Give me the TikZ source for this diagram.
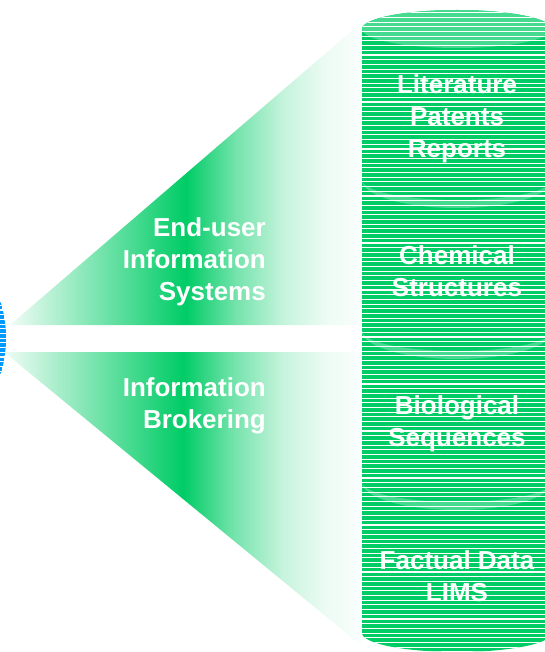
\documentclass[tikz,border=0pt]{standalone}
\usepackage{fontspec}
\setmainfont{Liberation Sans}
\usepackage{xcolor}
\usepackage{tikz}
\usetikzlibrary{positioning}
\definecolor{brand}{RGB}{0,204,102}
\definecolor{brandlight}{RGB}{70,218,145}
\definecolor{sphere}{RGB}{0,153,255}
\pgfdeclarehorizontalshading{fanshade}{100bp}{color(0bp)=(white); color(25bp)=(brand!6!white);
  color(50bp)=(brand); color(57bp)=(brand!55!white); color(64bp)=(brand!22!white);
  color(70bp)=(brand!7!white); color(75bp)=(brand!2!white); color(100bp)=(white)}

\begin{document}
\begin{tikzpicture}[x=1pt,y=-1pt,
    fan/.style={shading=fanshade},
    stripe/.style={white,line width=1.1pt},
    seam/.style={fill=brandlight},
    lbl/.style={text=white,font=\bfseries\fontsize{26}{32}\selectfont,inner sep=0pt}]
  \clip (0,0) rectangle (545,652);
  % Fans
  \shade[fan] (10,325) -- (362,22) -- (362,325) -- cycle;
  \shade[fan] (4,352) -- (362,352) -- (362,646) -- cycle;
  % Sphere on the left
  \begin{scope}
    \clip (-117,338) circle[radius=123pt];
    \fill[sphere] (-117,338) circle[radius=123pt];
    \foreach \y in {216,220.7,...,460} \draw[stripe] (-10,\y) -- (10,\y);
  \end{scope}
  % Database stack
  \begin{scope}
    \clip (362,29) -- (362,633) arc[start angle=180,end angle=360,x radius=95pt,y radius=19pt]
      -- (552,29) arc[start angle=0,end angle=180,x radius=95pt,y radius=19pt] -- cycle;
    \fill[brand] (355,0) rectangle (560,660);
    \fill[seam] (457,29) ellipse[x radius=95pt,y radius=19pt];
    \foreach \s in {180,331,482}
      \fill[seam] (362,\s) arc[start angle=180,end angle=360,x radius=95pt,y radius=28pt]
        arc[start angle=360,end angle=180,x radius=95pt,y radius=20pt] -- cycle;
    \foreach \y in {8,12.7,...,660} \draw[stripe] (355,\y) -- (560,\y);
  \end{scope}
  % Labels
  \node[lbl,anchor=east,align=right] (enduser) at (266,262) {End-user\\Information\\Systems};
  \node[lbl,anchor=east,align=right] (broker) at (266,406) {Information\\Brokering};
  \node[lbl,align=center] (lit) at (457,119) {Literature\\Patents\\Reports};
  \node[lbl,align=center] (chem) at (457,271) {Chemical\\Structures};
  \node[lbl,align=center] (bio) at (457,424) {Biological\\Sequences};
  \node[lbl,align=center] (fact) at (457,576) {Factual Data\\LIMS};
\end{tikzpicture}
\end{document}
